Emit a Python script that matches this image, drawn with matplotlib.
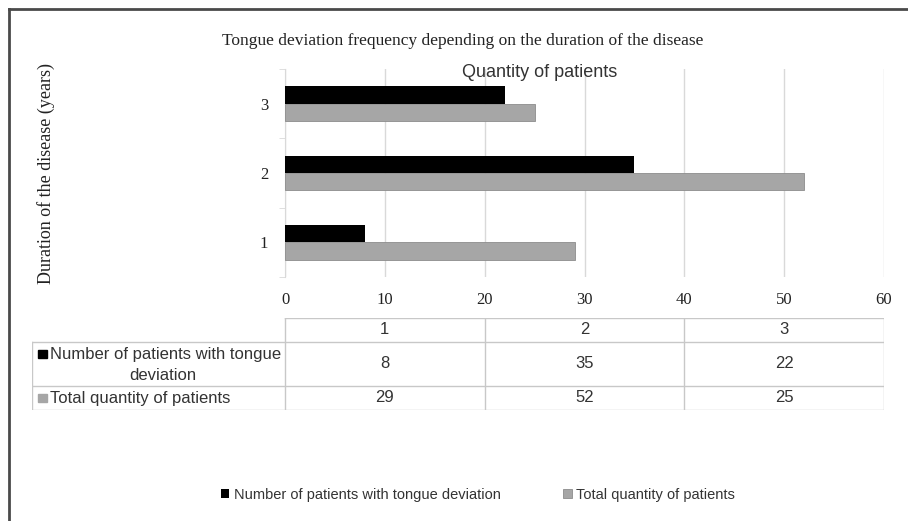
import numpy as np
import matplotlib
matplotlib.use('Agg')
from matplotlib import pyplot as plt
from matplotlib.patches import Rectangle
from matplotlib.lines import Line2D

# data
durations = ['1', '2', '3']
with_deviation = [8, 35, 22]
total_patients = [29, 52, 25]
series_names = ['Number of patients with tongue deviation', 'Total quantity of patients']
x_ticks = [0, 10, 20, 30, 40, 50, 60]

SERIF = ['Liberation Serif', 'DejaVu Serif']
SANS = ['Liberation Sans', 'DejaVu Sans']
BLACK = '#000000'
GREY = '#a6a6a6'
LINE = '#d9d9d9'
TXT = '#333333'

W, H = 908, 521
fig = plt.figure(figsize=(W / 100, H / 100), dpi=100)


def px(x0, y0, x1, y1):
    # pixel box -> figure fraction rect
    return [x0 / W, 1 - y1 / H, (x1 - x0) / W, (y1 - y0) / H]


# outer frame (left + top only)
fig.add_artist(Line2D([9 / W, 9 / W], [0, 1 - 9 / H], color='#4a4a4a', lw=2))
fig.add_artist(Line2D([9 / W, 1], [1 - 9 / H, 1 - 9 / H], color='#4a4a4a', lw=2))

ax = fig.add_axes(px(285, 69, 884, 277))
y = np.arange(1, len(durations) + 1)
h = 0.25
ax.barh(y + h / 2, with_deviation, height=h, color=BLACK, label=series_names[0], zorder=3)
ax.barh(y - h / 2, total_patients, height=h, color=GREY, edgecolor='#8c8c8c', lw=0.6,
        label=series_names[1], zorder=3)
ax.set_xlim(0, 60)
ax.set_ylim(0.5, 3.5)
ax.set_xticks(x_ticks)
ax.set_xticklabels([str(t) for t in x_ticks], family=SERIF, fontsize=12, color='#222222')
ax.tick_params(axis='x', length=0, pad=11)
ax.set_yticks(y)
ax.set_yticklabels(durations, family=SERIF, fontsize=12, color='#222222')
ax.set_yticks(np.arange(0.5, 3.6, 1), minor=True)
ax.tick_params(axis='y', which='major', length=0, pad=12)
ax.tick_params(axis='y', which='minor', length=4, color=LINE, direction='out')
ax.grid(axis='x', color=LINE, lw=1, zorder=0)
for s in ['top', 'right', 'bottom']:
    ax.spines[s].set_visible(False)
ax.spines['left'].set_color(LINE)

fig.text(463 / W, 1 - 41 / H, 'Tongue deviation frequency depending on the duration of the disease',
         ha='center', va='center', family=SERIF, fontsize=12.5, color='#222222')
fig.text(540 / W, 1 - 72 / H, 'Quantity of patients', ha='center', va='center',
         family=SANS, fontsize=13, color=TXT)
fig.text(46 / W, 1 - 174 / H, 'Duration of the disease (years)', ha='center', va='center',
         rotation=90, family=SERIF, fontsize=13, color='#222222')

# data table under the chart, columns lined up with the x scale
tx0 = (32 - 285) / (884 - 285) * 60
tab = fig.add_axes(px(32, 318, 884, 410))
tab.set_xlim(tx0, 60)
tab.set_ylim(0, 92)
tab.axis('off')
edges = [0, 20, 40, 60]
lc = '#c8c8c8'
tab.plot([0, 60], [92, 92], color=lc, lw=1)
for yy in [68, 24, 0]:
    tab.plot([tx0, 60], [yy, yy], color=lc, lw=1)
tab.plot([tx0, tx0], [0, 68], color=lc, lw=1)
for e in edges:
    tab.plot([e, e], [0, 92], color=lc, lw=1)
for i, d in enumerate(durations):
    cx = (edges[i] + edges[i + 1]) / 2
    tab.text(cx, 80, d, ha='center', va='center', family=SANS, fontsize=12, color=TXT)
    tab.text(cx, 46, str(with_deviation[i]), ha='center', va='center', family=SANS,
             fontsize=12, color=TXT)
    tab.text(cx, 12, str(total_patients[i]), ha='center', va='center', family=SANS,
             fontsize=12, color=TXT)
tab.add_patch(Rectangle((tx0 + 0.6, 52), 0.9, 8, color=BLACK, clip_on=False))
tab.add_patch(Rectangle((tx0 + 0.6, 8), 0.9, 8, color=GREY, clip_on=False))
tab.text(tx0 + 1.8, 56, 'Number of patients with tongue', ha='left', va='center',
         family=SANS, fontsize=12, color=TXT)
tab.text(tx0 / 2 + 0.4, 35, 'deviation', ha='center', va='center',
         family=SANS, fontsize=12, color=TXT)
tab.text(tx0 + 1.8, 12, series_names[1], ha='left', va='center',
         family=SANS, fontsize=12, color=TXT)

handles, labels = ax.get_legend_handles_labels()
leg = fig.legend(handles, labels, loc='center', bbox_to_anchor=(478 / W, 1 - 495 / H), ncol=2,
                 frameon=False, handlelength=0.6, handleheight=0.6, handletextpad=0.3,
                 columnspacing=4.3, prop={'family': SANS, 'size': 10.5})
for t in leg.get_texts():
    t.set_color(TXT)

fig.savefig('out.png', dpi=100)
